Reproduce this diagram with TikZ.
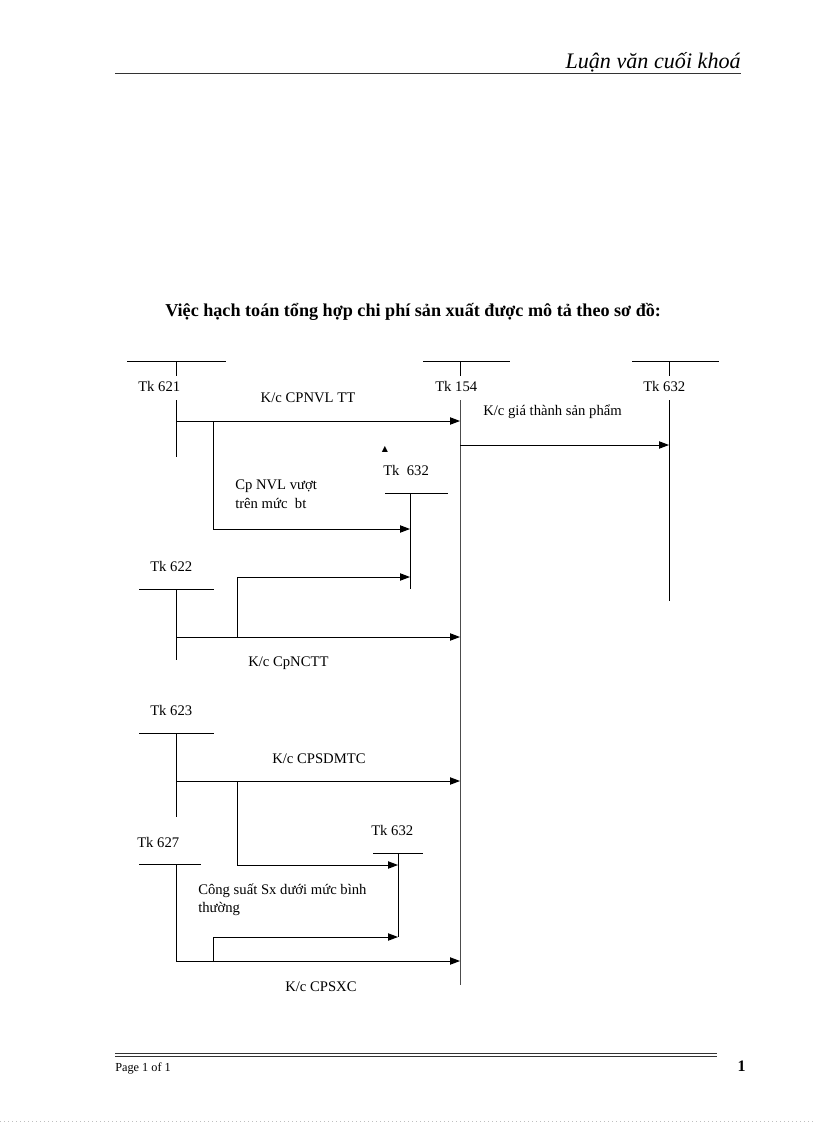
\documentclass[tikz,border=0pt]{standalone}
\usepackage{fontspec}
\setmainfont{Liberation Serif}
\newfontfamily\symfnt{DejaVu Sans}
\usetikzlibrary{arrows.meta}
\begin{document}
\begin{tikzpicture}[x=0.75pt,y=-0.75pt,
  acc/.style={line width=0.75pt},
  flow/.style={line width=0.75pt,-{Triangle[length=7.5pt,width=5.5pt]}},
  lbl/.style={font=\fontsize{11}{13}\selectfont,inner sep=0pt},
  hline/.style={line width=0.75pt}]
\useasboundingbox (0,0) rectangle (816,1123);
\fill[white] (0,0) rectangle (816,1123);
% header
\node[anchor=base east,inner sep=0pt,font=\fontsize{16.6}{18}\selectfont\itshape] (hdr) at (741,69) {Luận văn cuối khoá};
\draw[hline,black!80] (115,74) -- (741,74);
% title
\node[anchor=base west,inner sep=0pt,font=\fontsize{13.6}{16}\selectfont\bfseries] (title) at (165,316) {Việc hạch toán tổng hợp chi phí sản xuất được mô tả theo sơ đồ:};
% T-accounts top row
\coordinate (a621l) at (127,361); \coordinate (a621r) at (226,361);
\coordinate (a621t) at (176,361); \coordinate (a621m) at (176,376);
\coordinate (a621n) at (176,400); \coordinate (a621b) at (176,457);
\draw[acc] (a621l) -- (a621r); \draw[acc] (a621t) -- (a621m); \draw[acc] (a621n) -- (a621b);
\node[lbl,anchor=base west] (t621) at (138,391) {Tk 621};

\coordinate (a154l) at (423,361); \coordinate (a154r) at (510,361);
\coordinate (a154t) at (460,361); \coordinate (a154m) at (460,376);
\coordinate (a154n) at (460,400); \coordinate (a154b) at (460,985);
\draw[acc] (a154l) -- (a154r); \draw[acc] (a154t) -- (a154m); \draw[acc,black!70] (a154n) -- (a154b);
\node[lbl,anchor=base west] (t154) at (435,391) {Tk 154};

\coordinate (a632l) at (632,361); \coordinate (a632r) at (719,361);
\coordinate (a632t) at (669,361); \coordinate (a632m) at (669,376);
\coordinate (a632n) at (669,400); \coordinate (a632b) at (669,601);
\draw[acc] (a632l) -- (a632r); \draw[acc] (a632t) -- (a632m); \draw[acc] (a632n) -- (a632b);
\node[lbl,anchor=base west] (t632) at (643,391) {Tk 632};

% flows from 621
\coordinate (p1s) at (176,421); \coordinate (p1e) at (460,421);
\draw[flow] (p1s) -- (p1e);
\node[lbl,anchor=base] (k1) at (308,402) {K/c CPNVL TT};
\coordinate (b1) at (213,421); \coordinate (b1e) at (410,529);
\draw[flow] (b1) |- (b1e);
% Tk 632 middle
\node[inner sep=0pt,font=\symfnt\fontsize{6}{7}\selectfont] (tri) at (385,449) {▲};
\node[lbl,anchor=base west] (t632b) at (383,475) {Tk\ \ 632};
\coordinate (m632l) at (385,493); \coordinate (m632r) at (448,493);
\coordinate (m632t) at (410,493); \coordinate (m632b) at (410,589);
\draw[acc] (m632l) -- (m632r); \draw[acc] (m632t) -- (m632b);
\node[lbl,anchor=base west] (cp1) at (235,489) {Cp NVL vượt};
\node[lbl,anchor=base west] (cp2) at (235,508) {trên mức\ \ bt};
% 154 -> 632
\coordinate (p2s) at (460,445); \coordinate (p2e) at (669,445);
\draw[flow] (p2s) -- (p2e);
\node[lbl,anchor=base west] (kg) at (483,415) {K/c giá thành sản phẩm};

% Tk 622
\node[lbl,anchor=base west] (t622) at (150,571) {Tk 622};
\coordinate (a622l) at (139,589); \coordinate (a622r) at (214,589);
\coordinate (a622t) at (176,589); \coordinate (a622b) at (176,660);
\draw[acc] (a622l) -- (a622r); \draw[acc] (a622t) -- (a622b);
\coordinate (p3s) at (176,637); \coordinate (p3e) at (460,637);
\draw[flow] (p3s) -- (p3e);
\coordinate (b3) at (237,637); \coordinate (b3e) at (410,577);
\draw[flow] (b3) |- (b3e);
\node[lbl,anchor=base west] (k3) at (248,666) {K/c CpNCTT};

% Tk 623
\node[lbl,anchor=base west] (t623) at (150,715) {Tk 623};
\coordinate (a623l) at (139,733); \coordinate (a623r) at (214,733);
\coordinate (a623t) at (176,733); \coordinate (a623b) at (176,817);
\draw[acc] (a623l) -- (a623r); \draw[acc] (a623t) -- (a623b);
\coordinate (p4s) at (176,781); \coordinate (p4e) at (460,781);
\draw[flow] (p4s) -- (p4e);
\node[lbl,anchor=base west] (k4) at (272,763) {K/c CPSDMTC};
\coordinate (b4) at (237,781); \coordinate (b4e) at (398,865);
\draw[flow] (b4) |- (b4e);

% Tk 632 bottom
\node[lbl,anchor=base west] (t632c) at (371,835) {Tk 632};
\coordinate (c632l) at (373,853); \coordinate (c632r) at (423,853);
\coordinate (c632t) at (398,853); \coordinate (c632b) at (398,937);
\draw[acc] (c632l) -- (c632r); \draw[acc] (c632t) -- (c632b);

% Tk 627
\node[lbl,anchor=base west] (t627) at (137,847) {Tk 627};
\coordinate (a627l) at (139,864); \coordinate (a627r) at (201,864);
\coordinate (a627t) at (176,864); \coordinate (a627c) at (176,961);
\draw[acc] (a627l) -- (a627r);
\coordinate (p5e) at (460,961);
\draw[flow] (a627t) -- (a627c) -- (p5e);
\coordinate (b5) at (213,961); \coordinate (b5e) at (398,937);
\draw[flow] (b5) |- (b5e);
\node[lbl,anchor=base west] (cs1) at (198,894) {Công suất Sx dưới mức bình};
\node[lbl,anchor=base west] (cs2) at (198,912) {thường};
\node[lbl,anchor=base west] (k5) at (285,991) {K/c CPSXC};

% footer
\draw[line width=0.75pt,black!80] (115,1053) -- (717,1053);
\draw[line width=0.75pt,black!80] (115,1056) -- (717,1056);
\node[anchor=base west,inner sep=0pt,font=\fontsize{9.2}{11}\selectfont] (pg) at (115,1071) {Page 1 of 1};
\node[anchor=base east,inner sep=0pt,font=\fontsize{12}{14}\selectfont\bfseries] (pn) at (746,1071) {1};
\draw[black!25,line width=0.6pt,dash pattern=on 1pt off 2pt] (0,1121) -- (816,1121);
\end{tikzpicture}
\end{document}
